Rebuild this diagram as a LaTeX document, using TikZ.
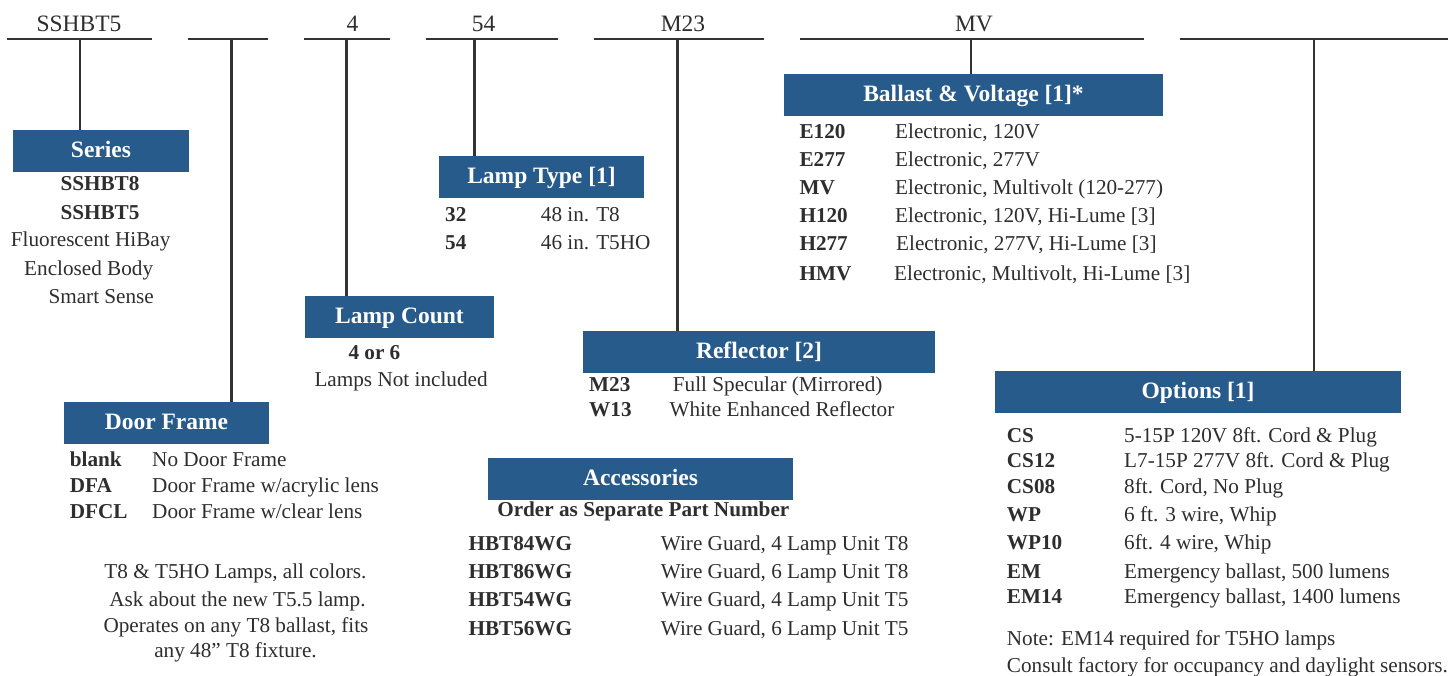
\documentclass[tikz,border=0pt]{standalone}
\usepackage{fontspec}
\setmainfont{Liberation Serif}
\definecolor{hblue}{HTML}{275B8C}
\definecolor{linegray}{HTML}{333333}
\definecolor{txtgray}{HTML}{2E2E2E}
\newcommand{\bodyfnt}{\fontsize{21.2}{25}\selectfont}
\newcommand{\topfnt}{\fontsize{23.5}{28}\selectfont}
\newcommand{\headfnt}{\fontsize{23.5}{28}\selectfont\bfseries}
\tikzset{
  bar/.style={line width=2.8pt, draw=linegray},
  conn/.style={line width=2.8pt, draw=linegray},
  hbox/.style={fill=hblue, minimum height=42pt, inner sep=0pt, text=white, font=\headfnt, text height=16pt, text depth=4pt},
  txt/.style={anchor=base west, inner sep=0pt, text=txtgray, font=\bodyfnt},
  btxt/.style={txt, font=\bodyfnt\bfseries},
  ctxt/.style={txt, anchor=base},
  cbtxt/.style={btxt, anchor=base},
  toplbl/.style={ctxt, font=\topfnt},
}
\begin{document}
\begin{tikzpicture}[x=1pt, y=-1pt]
\fill[white] (0,0) rectangle (1448,675);
\useasboundingbox (0,0) rectangle (1448,675);

% top labels
\node[toplbl] (l1) at (79,31.5) {SSHBT5};
\node[toplbl] (l3) at (352.5,31.5) {4};
\node[toplbl] (l4) at (483.5,31.5) {54};
\node[toplbl] (l5) at (683,31.5) {M23};
\node[toplbl] (l6) at (974,31.5) {MV};

% bars
\coordinate (b1l) at (7,39);    \coordinate (b1r) at (152,39);
\coordinate (b2l) at (188,39);  \coordinate (b2r) at (268,39);
\coordinate (b3l) at (304,39);  \coordinate (b3r) at (390,39);
\coordinate (b4l) at (426,39);  \coordinate (b4r) at (558,39);
\coordinate (b5l) at (594,39);  \coordinate (b5r) at (764,39);
\coordinate (b6l) at (800,39);  \coordinate (b6r) at (1144,39);
\coordinate (b7l) at (1180,39); \coordinate (b7r) at (1448,39);
\foreach \i in {1,...,7}{\draw[bar] (b\i l) -- (b\i r);}

% boxes
\node[hbox, minimum width=176pt] (series) at (101,151) {Series};
\node[hbox, minimum width=205pt] (lamptype) at (541.5,177) {Lamp Type [1]};
\node[hbox, minimum width=189pt] (lampcount) at (399.5,317) {Lamp Count};
\node[hbox, minimum width=205pt] (doorframe) at (166.5,423) {Door Frame};
\node[hbox, minimum width=379pt] (ballast) at (973.5,95) {Ballast \& Voltage [1]*};
\node[hbox, minimum width=352pt] (reflector) at (759,352) {Reflector [2]};
\node[hbox, minimum width=305pt] (accessories) at (640.5,479) {Accessories};
\node[hbox, minimum width=406pt] (options) at (1198,392) {Options [1]};

% connectors
\coordinate (c1) at (80,39);
\coordinate (c2) at (231.3,39);
\coordinate (c3) at (346.7,39);
\coordinate (c4) at (474.7,39);
\coordinate (c5) at (677.3,39);
\coordinate (c6) at (971,39);
\coordinate (c7) at (1314,39);
\draw[conn] (c1) -- (c1 |- series.north);
\draw[conn] (c2) -- (c2 |- doorframe.north);
\draw[conn] (c3) -- (c3 |- lampcount.north);
\draw[conn] (c4) -- (c4 |- lamptype.north);
\draw[conn] (c5) -- (c5 |- reflector.north);
\draw[conn] (c6) -- (c6 |- ballast.north);
\draw[conn] (c7) -- (c7 |- options.north);

% Series
\node[cbtxt] (s1) at (100,190.7) {SSHBT8};
\node[cbtxt] (s2) at (100,219) {SSHBT5};
\node[txt] (s3) at (10.7,246.7) {Fluorescent HiBay};
\node[txt] (s4) at (24,275) {Enclosed Body};
\node[txt] (s5) at (48.3,303.3) {Smart Sense};

% Lamp type
\node[btxt] (lt1) at (445,221) {32};
\node[txt] (lt1d) at (540.7,221) {48 in. T8};
\node[btxt] (lt2) at (445,249.3) {54};
\node[txt] (lt2d) at (540.7,249.3) {46 in. T5HO};

% Lamp count
\node[btxt] (lc1) at (348.3,359) {4 or 6};
\node[txt] (lc2) at (314.3,386) {Lamps Not included};

% Door frame
\node[btxt] (df1) at (69.7,466) {blank};
\node[txt] (df1d) at (152,466) {No Door Frame};
\node[btxt] (df2) at (69.7,492) {DFA};
\node[txt] (df2d) at (152,492) {Door Frame w/acrylic lens};
\node[btxt] (df3) at (69.7,518.3) {DFCL};
\node[txt] (df3d) at (152,518.3) {Door Frame w/clear lens};

% Notes
\node[ctxt] (n1) at (235.5,578.3) {T8 \& T5HO Lamps, all colors.};
\node[ctxt] (n2) at (237.5,606.7) {Ask about the new T5.5 lamp.};
\node[ctxt] (n3) at (236,632.3) {Operates on any T8 ballast, fits};
\node[ctxt] (n4) at (235.5,657.3) {any 48” T8 fixture.};

% Ballast
\node[btxt] (bv1) at (799.3,138) {E120};
\node[txt] (bv1d) at (895,138) {Electronic, 120V};
\node[btxt] (bv2) at (799.3,166) {E277};
\node[txt] (bv2d) at (895,166) {Electronic, 277V};
\node[btxt] (bv3) at (799.3,194.3) {MV};
\node[txt] (bv3d) at (895,194.3) {Electronic, Multivolt (120-277)};
\node[btxt] (bv4) at (799.3,222.7) {H120};
\node[txt] (bv4d) at (895,222.7) {Electronic, 120V, Hi-Lume [3]};
\node[btxt] (bv5) at (799.3,250.7) {H277};
\node[txt] (bv5d) at (896,250.7) {Electronic, 277V, Hi-Lume [3]};
\node[btxt] (bv6) at (799.3,280) {HMV};
\node[txt] (bv6d) at (894,280) {Electronic, Multivolt, Hi-Lume [3]};

% Reflector
\node[btxt] (r1) at (589,391.7) {M23};
\node[txt] (r1d) at (672.7,391.7) {Full Specular (Mirrored)};
\node[btxt] (r2) at (589,416.7) {W13};
\node[txt] (r2d) at (669.3,416.7) {White Enhanced Reflector};

% Accessories
\node[cbtxt] (ac0) at (643.3,516) {Order as Separate Part Number};
\node[btxt] (ac1) at (468.3,550) {HBT84WG};
\node[txt] (ac1d) at (660.7,550) {Wire Guard, 4 Lamp Unit T8};
\node[btxt] (ac2) at (468.3,578.3) {HBT86WG};
\node[txt] (ac2d) at (660.7,578.3) {Wire Guard, 6 Lamp Unit T8};
\node[btxt] (ac3) at (468.3,606.7) {HBT54WG};
\node[txt] (ac3d) at (660.7,606.7) {Wire Guard, 4 Lamp Unit T5};
\node[btxt] (ac4) at (468.3,635) {HBT56WG};
\node[txt] (ac4d) at (660.7,635) {Wire Guard, 6 Lamp Unit T5};

% Options
\node[btxt] (o1) at (1006.7,442.3) {CS};
\node[txt] (o1d) at (1124,442.3) {5-15P 120V 8ft. Cord \& Plug};
\node[btxt] (o2) at (1006.7,467.3) {CS12};
\node[txt] (o2d) at (1124,467.3) {L7-15P 277V 8ft. Cord \& Plug};
\node[btxt] (o3) at (1006.7,493.3) {CS08};
\node[txt] (o3d) at (1124,493.3) {8ft. Cord, No Plug};
\node[btxt] (o4) at (1006.7,521.7) {WP};
\node[txt] (o4d) at (1124,521.7) {6 ft. 3 wire, Whip};
\node[btxt] (o5) at (1006.7,549.3) {WP10};
\node[txt] (o5d) at (1124,549.3) {6ft. 4 wire, Whip};
\node[btxt] (o6) at (1006.7,578.3) {EM};
\node[txt] (o6d) at (1124,578.3) {Emergency ballast, 500 lumens};
\node[btxt] (o7) at (1006.7,603.3) {EM14};
\node[txt] (o7d) at (1124,603.3) {Emergency ballast, 1400 lumens};
\node[txt] (on1) at (1006.7,645) {Note: EM14 required for T5HO lamps};
\node[txt] (on2) at (1006.7,672.5) {Consult factory for occupancy and daylight sensors.};
\end{tikzpicture}
\end{document}
